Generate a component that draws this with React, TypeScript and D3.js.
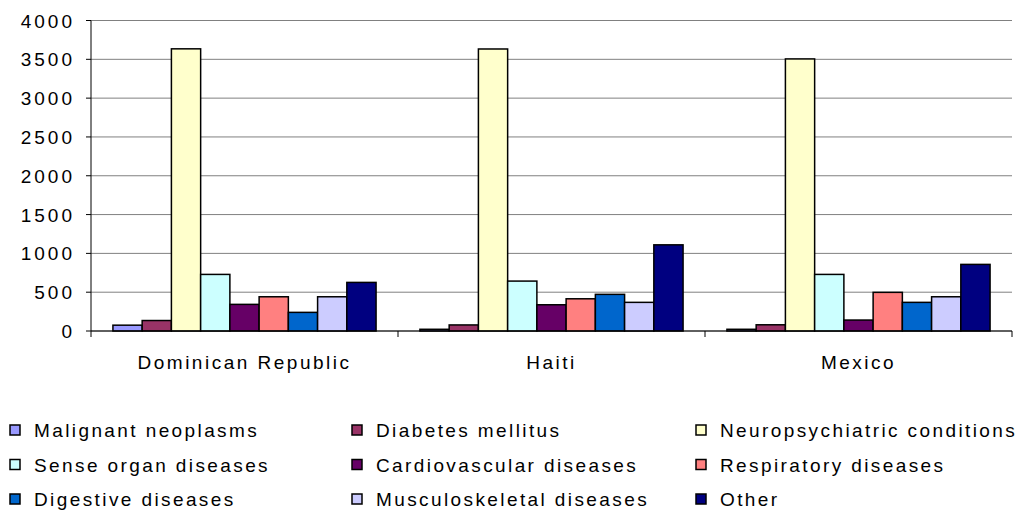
import React from "react";
import * as d3 from "d3";

const categories = ["Dominican Republic", "Haiti", "Mexico"];
const seriesNames = [
  "Malignant neoplasms",
  "Diabetes mellitus",
  "Neuropsychiatric conditions",
  "Sense organ diseases",
  "Cardiovascular diseases",
  "Respiratory diseases",
  "Digestive diseases",
  "Musculoskeletal diseases",
  "Other",
];
const seriesColors = [
  "#9999FF",
  "#993366",
  "#FFFFCC",
  "#CCFFFF",
  "#660066",
  "#FF8080",
  "#0066CC",
  "#CCCCFF",
  "#000080",
];
// values[series][category]
const malignant = [75, 22, 22];
const diabetes = [135, 78, 80];
const neuro = [3635, 3633, 3505];
const sense = [729, 643, 729];
const cardio = [343, 338, 141];
const respiratory = [441, 415, 498];
const digestive = [240, 472, 369];
const musculo = [441, 369, 441];
const other = [626, 1110, 858];
const seriesValues = [malignant, diabetes, neuro, sense, cardio, respiratory, digestive, musculo, other];
const yTicks = [0, 500, 1000, 1500, 2000, 2500, 3000, 3500, 4000];

const FONT = "'Liberation Sans', Arial, sans-serif";

export default function App() {
  const W = 1024;
  const H = 514;
  const left = 91;
  const right = 1012;
  const top = 20.5;
  const bottom = 331;

  const x0 = d3.scaleBand<string>().domain(categories).range([left, right]).paddingInner(0).paddingOuter(0);
  const x1 = d3
    .scaleBand<string>()
    .domain(seriesNames)
    .range([0, x0.bandwidth()])
    .paddingInner(0)
    .paddingOuter(0.75);
  const y = d3.scaleLinear().domain([0, 4000]).range([bottom, top]);

  const legendCols = [10, 352, 696];
  const legendRows = [437, 471.5, 506];

  return (
    <svg
      width={W}
      height={H}
      style={{ position: "absolute", left: 0, top: 0, background: "#fff" }}
      fontFamily={FONT}
    >
      {/* gridlines */}
      {yTicks.map((t) => (
        <line key={"g" + t} x1={left} x2={right} y1={y(t)} y2={y(t)} stroke="#808080" strokeWidth={1} />
      ))}
      {/* y tick marks and labels */}
      {yTicks.map((t) => (
        <g key={"t" + t}>
          <line x1={left - 5} x2={left} y1={y(t)} y2={y(t)} stroke="#000" strokeWidth={1} />
          <text
            x={75}
            y={y(t) + 7}
            textAnchor="end"
            fontSize={19}
            letterSpacing={3}
            fill="#000"
          >
            {t}
          </text>
        </g>
      ))}
      {/* bars */}
      {categories.map((c, ci) => (
        <g key={c} transform={`translate(${x0(c)},0)`}>
          {seriesNames.map((s, si) => {
            const v = seriesValues[si][ci];
            return (
              <rect
                key={s}
                x={x1(s)}
                y={y(v)}
                width={x1.bandwidth()}
                height={bottom - y(v)}
                fill={seriesColors[si]}
                stroke="#000"
                strokeWidth={1.5}
              />
            );
          })}
        </g>
      ))}
      {/* axes */}
      <line x1={left} x2={left} y1={top} y2={bottom} stroke="#000" strokeWidth={1} />
      <line x1={left} x2={right} y1={bottom} y2={bottom} stroke="#000" strokeWidth={1} />
      {[...categories.map((c) => x0(c) as number), right].map((xv, i) => (
        <line key={"xt" + i} x1={xv} x2={xv} y1={bottom} y2={bottom + 6} stroke="#000" strokeWidth={1} />
      ))}
      {categories.map((c) => (
        <text
          key={"xl" + c}
          x={(x0(c) as number) + x0.bandwidth() / 2}
          y={369}
          textAnchor="middle"
          fontSize={19}
          letterSpacing={2.5}
          fill="#000"
        >
          {c}
        </text>
      ))}
      {/* legend */}
      {seriesNames.map((s, i) => {
        const col = i % 3;
        const row = Math.floor(i / 3);
        const lx = legendCols[col];
        const ly = legendRows[row];
        return (
          <g key={"lg" + s}>
            <rect x={lx} y={ly - 12} width={10} height={10} fill={seriesColors[i]} stroke="#000" strokeWidth={1.5} />
            <text x={lx + 24} y={ly} fontSize={19} letterSpacing={2.4} fill="#000">
              {s}
            </text>
          </g>
        );
      })}
    </svg>
  );
}
